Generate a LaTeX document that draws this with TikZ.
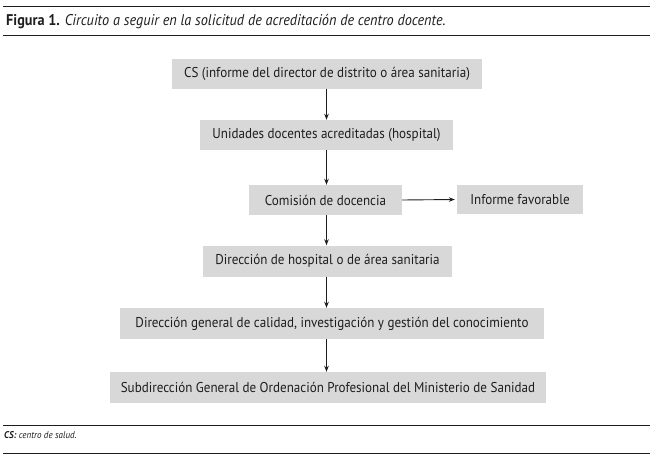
\documentclass[tikz,border=0pt]{standalone}
\usepackage{fontspec}
\setmainfont{PT Sans}[FakeStretch=0.92]
\usetikzlibrary{arrows.meta}
\definecolor{boxgray}{RGB}{216,216,216}
\definecolor{ink}{RGB}{30,30,30}
\tikzset{
  stepbox/.style={fill=boxgray, draw=none, inner sep=0pt, font=\fontsize{14.2}{16}\selectfont, text=ink, anchor=center},
  flow/.style={draw=ink, line width=0.9pt, -{Stealth[length=6pt,width=4.5pt]}},
  rule/.style={draw=ink, line width=1pt}
}
\begin{document}
\begin{tikzpicture}[x=1pt,y=-1pt]
\useasboundingbox (0,0) rectangle (657,463);
% rules
\coordinate (r1a) at (3,6.5); \coordinate (r1b) at (650,6.5);
\coordinate (r2a) at (3,35); \coordinate (r2b) at (650,35);
\coordinate (r3a) at (3,425); \coordinate (r3b) at (650,425);
\coordinate (r4a) at (3,453); \coordinate (r4b) at (650,453);
\draw[rule] (r1a) -- (r1b);
\draw[rule] (r2a) -- (r2b);
\draw[rule] (r3a) -- (r3b);
\draw[rule] (r4a) -- (r4b);
% title and footer
\node[anchor=base west, inner sep=0pt, font=\fontsize{15.5}{18}\selectfont, text=ink] (title) at (6,25)
  {\textbf{Figura 1.} \textit{Circuito a seguir en la solicitud de acreditación de centro docente.}};
\node[anchor=base west, inner sep=0pt, font=\fontsize{9.8}{12}\selectfont, text=ink] (foot) at (4,438)
  {\textit{\textbf{CS:} centro de salud.}};
% boxes
\node[stepbox, minimum width=310, minimum height=30] (b1) at (327,74) {CS (informe del director de distrito o área sanitaria)};
\node[stepbox, minimum width=253, minimum height=30] (b2) at (326.5,135) {Unidades docentes acreditadas (hospital)};
\node[stepbox, minimum width=153, minimum height=30] (b3) at (325.5,200) {Comisión de docencia};
\node[stepbox, minimum width=126, minimum height=29] (b4) at (520,199.5) {Informe favorable};
\node[stepbox, minimum width=249, minimum height=31] (b5) at (327.5,261) {Dirección de hospital o de área sanitaria};
\node[stepbox, minimum width=424, minimum height=31] (b6) at (332,323.5) {Dirección general de calidad, investigación y gestión del conocimiento};
\node[stepbox, minimum width=436, minimum height=31] (b7) at (328,387.5) {Subdirección General de Ordenación Profesional del Ministerio de Sanidad};
% connectors
\coordinate (ax) at (326.5,0);
\draw[flow] (b1.south -| ax) -- (b2.north -| ax);
\draw[flow] (b2.south -| ax) -- (b3.north -| ax);
\draw[flow] (b3.south -| ax) -- (b5.north -| ax);
\draw[flow] (b5.south -| ax) -- (b6.north -| ax);
\draw[flow] (b6.south -| ax) -- (b7.north -| ax);
\draw[flow] (b3.east) -- ([xshift=-2pt]b4.west);
\end{tikzpicture}
\end{document}
